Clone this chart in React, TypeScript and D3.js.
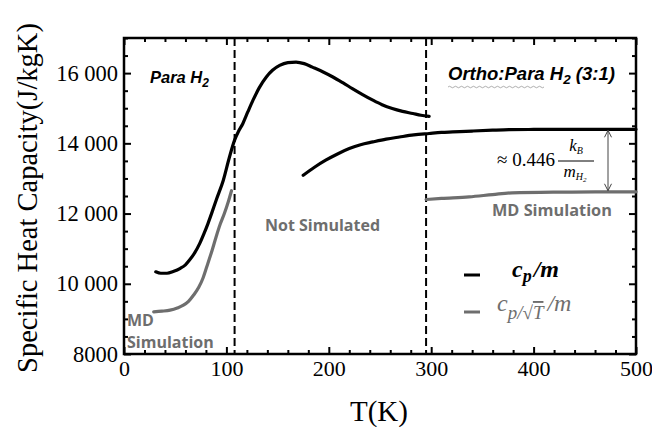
import React, { useEffect, useRef } from 'react';
import * as d3 from 'd3';

// temperature (K), specific heat (J/kgK)
const paraCp: [number, number][] = [
    [31, 10340], [36, 10300], [42, 10300], [48, 10350], [55, 10440], [60, 10540], [64, 10675],
    [69, 10880], [74, 11150], [78, 11420], [82, 11715], [86, 12040], [90, 12380], [97, 12950],
    [103, 13610], [108, 14090], [112, 14350], [116, 14560], [121, 14900], [126, 15230],
    [132, 15580], [139, 15890], [145, 16080], [152, 16220], [160, 16300], [168, 16315],
    [176, 16270], [184, 16170], [194, 16040], [204, 15890], [214, 15720], [223, 15560],
    [233, 15390], [243, 15230], [252, 15100], [262, 14990], [272, 14910], [282, 14850],
    [290, 14800], [298, 14770]
];
const orthoCp: [number, number][] = [
    [175, 13090], [186, 13320], [197, 13520], [208, 13690], [220, 13850], [231, 13960],
    [243, 14040], [256, 14120], [269, 14180], [283, 14240], [298, 14280], [310, 14310],
    [321, 14325], [340, 14350], [360, 14375], [376, 14390], [400, 14395], [450, 14400], [500, 14400]
];
const paraMd: [number, number][] = [
    [29, 9200], [37, 9220], [45, 9250], [52, 9310], [58, 9390], [63, 9500], [68, 9680],
    [73, 9900], [77, 10150], [81, 10500], [86, 10950], [90, 11340], [94, 11700], [98, 12000],
    [102, 12350], [105, 12650]
];
const orthoMd: [number, number][] = [
    [295, 12400], [310, 12430], [337, 12475], [360, 12540], [379, 12590], [420, 12610],
    [460, 12615], [500, 12620]
];
const boundaries = [108, 295];
const xTicks = [0, 100, 200, 300, 400, 500];
const yTicks = [8000, 10000, 12000, 14000, 16000];

const GRAY = "#6e6e6e";
const SERIF = "'Liberation Serif', 'DejaVu Serif', serif";
const SANS = "'Liberation Sans', Arial, sans-serif";
const LABEL = "'Open Sans', 'Noto Sans', sans-serif";

export default function App() {
    const ref = useRef<SVGGElement>(null);

    useEffect(() => {
        const svg = d3.select(ref.current);
        svg.selectAll("*").remove();

        const x = d3.scaleLinear().domain([0, 500]).range([124, 636]);
        const y = d3.scaleLinear().domain([8000, 17000]).range([354, 38]);
        const fmt = (d: number) => d >= 10000 ? d3.format(",")(d).replace(",", " ") : String(d);

        const minorX = d3.range(0, 501, 20).filter(d => d % 100 !== 0);
        const minorY = d3.range(8000, 17001, 500).filter(d => d % 2000 !== 0);

        const styleAxis = (g: any) => {
            g.select(".domain").remove();
            g.selectAll("line").attr("stroke", "#000").attr("stroke-width", 2);
        };

        // bottom
        svg.append("g").attr("transform", `translate(0,354)`)
            .call(d3.axisBottom(x).tickValues(xTicks).tickSize(-7).tickPadding(6).tickFormat(d => String(d)))
            .call(styleAxis)
            .selectAll("text").attr("font-family", SERIF).attr("font-size", 22).attr("fill", "#000");
        svg.append("g").attr("transform", `translate(0,354)`)
            .call(d3.axisBottom(x).tickValues(minorX).tickSize(-4).tickFormat(() => ""))
            .call(styleAxis);
        // top
        svg.append("g").attr("transform", `translate(0,38)`)
            .call(d3.axisTop(x).tickValues(xTicks).tickSize(-7).tickFormat(() => ""))
            .call(styleAxis);
        svg.append("g").attr("transform", `translate(0,38)`)
            .call(d3.axisTop(x).tickValues(minorX).tickSize(-4).tickFormat(() => ""))
            .call(styleAxis);
        // left
        svg.append("g").attr("transform", `translate(124,0)`)
            .call(d3.axisLeft(y).tickValues(yTicks).tickSize(-7).tickPadding(6).tickFormat(d => fmt(+d)))
            .call(styleAxis)
            .selectAll("text").attr("font-family", SERIF).attr("font-size", 22.5).attr("fill", "#000");
        svg.append("g").attr("transform", `translate(124,0)`)
            .call(d3.axisLeft(y).tickValues(minorY).tickSize(-4).tickFormat(() => ""))
            .call(styleAxis);
        // right
        svg.append("g").attr("transform", `translate(636,0)`)
            .call(d3.axisRight(y).tickValues(yTicks).tickSize(-7).tickFormat(() => ""))
            .call(styleAxis);
        svg.append("g").attr("transform", `translate(636,0)`)
            .call(d3.axisRight(y).tickValues(minorY).tickSize(-4).tickFormat(() => ""))
            .call(styleAxis);

        // frame
        svg.append("rect")
            .attr("x", x(0)).attr("y", y(17000))
            .attr("width", x(500) - x(0)).attr("height", y(8000) - y(17000))
            .attr("fill", "none").attr("stroke", "#000").attr("stroke-width", 2.5);

        // region boundaries
        svg.selectAll(".bound")
            .data(boundaries)
            .enter()
            .append("line")
            .attr("x1", d => x(d)).attr("x2", d => x(d))
            .attr("y1", y(17000)).attr("y2", y(8000))
            .attr("stroke", "#000").attr("stroke-width", 2)
            .attr("stroke-dasharray", "8,4");

        const line = d3.line<[number, number]>()
            .x(d => x(d[0]))
            .y(d => y(d[1]))
            .curve(d3.curveMonotoneX);

        [[paraCp, "#000"], [orthoCp, "#000"], [paraMd, GRAY], [orthoMd, GRAY]].forEach(([data, color]: any) => {
            svg.append("path")
                .attr("fill", "none")
                .attr("stroke", color)
                .attr("stroke-width", 3.2)
                .attr("stroke-linecap", "round")
                .attr("d", line(data));
        });

        // gap arrow between ortho curves
        const ax = 608;
        const a1 = y(14400) + 1, a2 = y(12620) - 1;
        svg.append("line").attr("x1", ax).attr("x2", ax).attr("y1", a1).attr("y2", a2)
            .attr("stroke", "#444").attr("stroke-width", 1);
        svg.append("path")
            .attr("d", `M${ax - 3.5},${a1 + 7}L${ax},${a1}L${ax + 3.5},${a1 + 7}M${ax - 3.5},${a2 - 7}L${ax},${a2}L${ax + 3.5},${a2 - 7}`)
            .attr("fill", "none").attr("stroke", "#444").attr("stroke-width", 1);
    }, []);

    return (
        <svg width={652} height={427} style={{ position: "absolute", left: 0, top: 0, background: "#fff" }}>
            <g ref={ref}></g>
            <g>
                {/* axis titles */}
                <text x={379} y={421} textAnchor="middle" fontFamily={SERIF} fontSize={29}>T(K)</text>
                <text transform="translate(37,198) rotate(-90)" textAnchor="middle" fontFamily={SERIF} fontSize={28.5}>
                    Specific Heat Capacity(J/kgK)
                </text>

                {/* region labels */}
                <text x={150} y={83} fontFamily={SANS} fontSize={16.5} fontWeight="bold" fontStyle="italic">
                    Para H<tspan fontSize={12} dy={4}>2</tspan>
                </text>
                <text x={448} y={80} fontFamily={SANS} fontSize={18.5} fontWeight="bold" fontStyle="italic">
                    Ortho:Para H<tspan fontSize={13.5} dy={4}>2</tspan><tspan dy={-4}> (3:1)</tspan>
                </text>
                <path d="M448,87 q1.5,-1.5 3,0 t3,0 t3,0 t3,0 t3,0 t3,0 t3,0 t3,0 t3,0 t3,0 t3,0 t3,0 t3,0 t3,0 t3,0 t3,0 t3,0 t3,0 t3,0 t3,0 t3,0 t3,0 t3,0 t3,0 t3,0 t3,0 t3,0 t3,0 t3,0 t3,0 t3,0 t3,0"
                    fill="none" stroke="#999" strokeWidth={0.8} />
                <text x={265} y={231} fontFamily={LABEL} fontSize={16} fontWeight={700} fill={GRAY}>Not Simulated</text>
                <text x={492} y={216} fontFamily={LABEL} fontSize={16.3} fontWeight={700} fill={GRAY}>MD Simulation</text>
                <text x={127} y={326} fontFamily={LABEL} fontSize={16} fontWeight={700} fill={GRAY}>MD</text>
                <text x={127} y={348} fontFamily={LABEL} fontSize={16} fontWeight={700} fill={GRAY}>Simulation</text>

                {/* gap annotation */}
                <text x={497} y={166} fontFamily={SERIF} fontSize={19}>≈ 0.446</text>
                <text x={576} y={151} textAnchor="middle" fontFamily={SERIF} fontSize={17} fontStyle="italic">
                    k<tspan fontSize={10} dy={3}>B</tspan>
                </text>
                <line x1={558} x2={594} y1={161} y2={161} stroke="#000" strokeWidth={1} />
                <text x={575} y={177} textAnchor="middle" fontFamily={SERIF} fontSize={17} fontStyle="italic">
                    m<tspan fontSize={10} dy={3}>H</tspan><tspan fontSize={7} dy={2}>2</tspan>
                </text>

                {/* legend */}
                <line x1={464} x2={480} y1={275} y2={275} stroke="#000" strokeWidth={3} />
                <text x={512} y={277} fontFamily={SERIF} fontSize={24} fontWeight="bold" fontStyle="italic">
                    c<tspan fontSize={18} dy={5}>p</tspan><tspan dx={2} dy={-5}>/m</tspan>
                </text>
                <line x1={464} x2={480} y1={312} y2={312} stroke={GRAY} strokeWidth={3} />
                <text x={497} y={311} fontFamily={SERIF} fontSize={24} fontStyle="italic" fill={GRAY}>
                    c<tspan fontSize={19} dy={8}>p/√</tspan><tspan fontSize={19} textDecoration="overline">T</tspan><tspan dx={4} dy={-8}>/m</tspan>
                </text>
            </g>
        </svg>
    );
}
